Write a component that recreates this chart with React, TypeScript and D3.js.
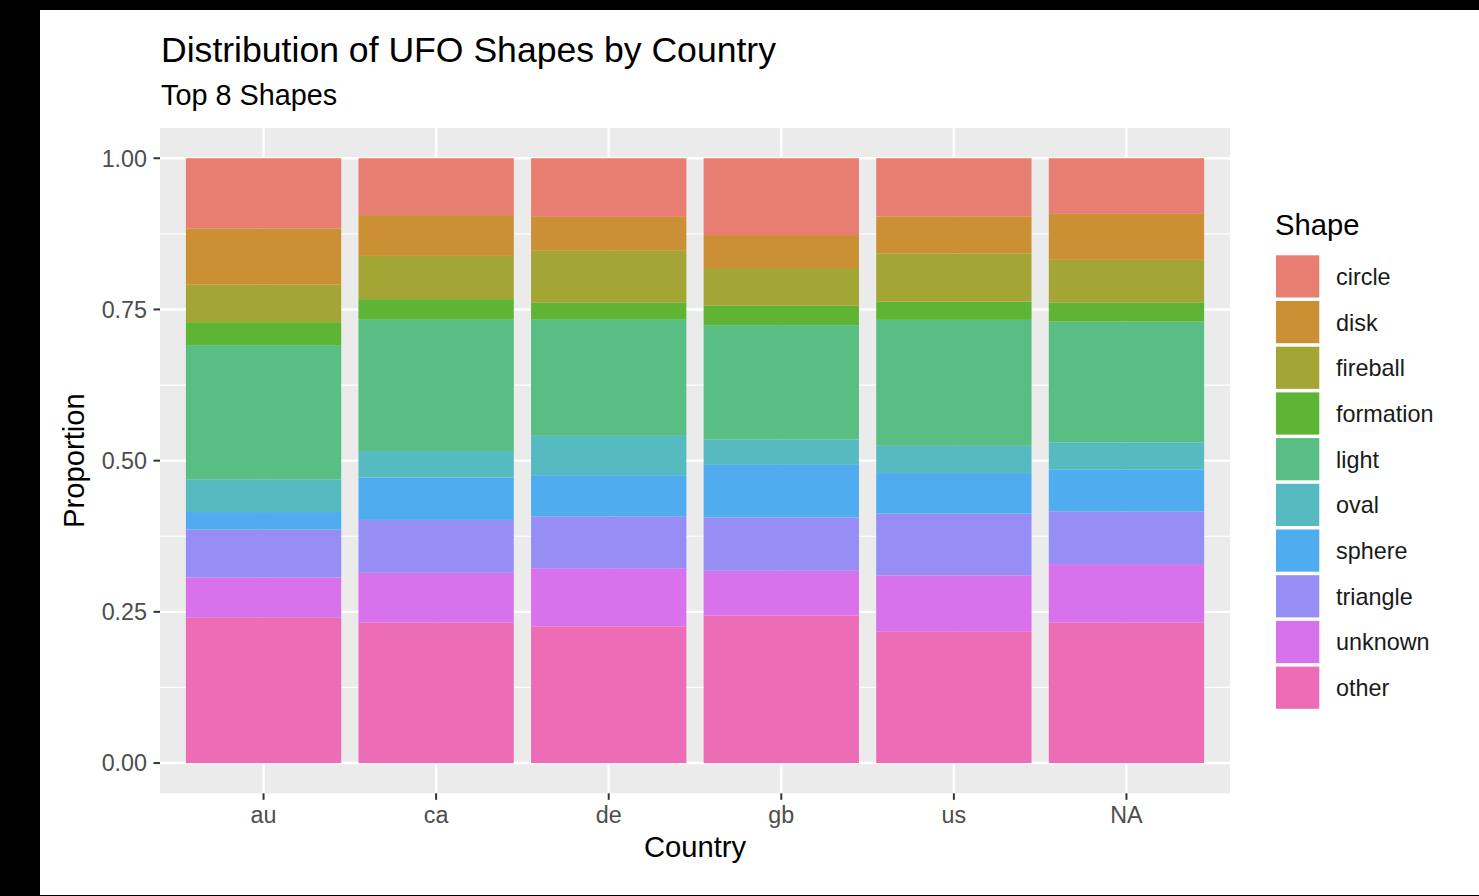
import React from "react";
import * as d3 from "d3";

const countries = ["au", "ca", "de", "gb", "us", "NA"];
const shapes = ["circle", "disk", "fireball", "formation", "light", "oval", "sphere", "triangle", "unknown", "other"];
const shapeColors = ["#E77E71", "#CB9033", "#A3A534", "#5EB535", "#58BE84", "#55BBC0", "#4FACEF", "#968EF5", "#D771EC", "#EC6DB5"];

const circleVals = [0.116, 0.094, 0.097, 0.127, 0.096, 0.092];
const diskVals = [0.093, 0.0675, 0.056, 0.0545, 0.061, 0.076];
const fireballVals = [0.062, 0.0715, 0.086, 0.0625, 0.08, 0.071];
const formationVals = [0.038, 0.034, 0.028, 0.032, 0.03, 0.031];
const lightVals = [0.222, 0.217, 0.192, 0.189, 0.208, 0.2];
const ovalVals = [0.054, 0.044, 0.065, 0.042, 0.045, 0.045];
const sphereVals = [0.029, 0.07, 0.068, 0.087, 0.067, 0.069];
const triangleVals = [0.079, 0.0874, 0.086, 0.088, 0.102, 0.087];
const unknownVals = [0.066, 0.0826, 0.096, 0.074, 0.093, 0.097];
const otherVals = [0.241, 0.232, 0.226, 0.244, 0.217, 0.232];

const yTicks = [0, 0.25, 0.5, 0.75, 1];
const yMinor = [0.125, 0.375, 0.625, 0.875];

const seriesByShape: Record<string, number[]> = {
  circle: circleVals,
  disk: diskVals,
  fireball: fireballVals,
  formation: formationVals,
  light: lightVals,
  oval: ovalVals,
  sphere: sphereVals,
  triangle: triangleVals,
  unknown: unknownVals,
  other: otherVals,
};

const FONT = "'Liberation Sans', Arial, Helvetica, sans-serif";

export default function App() {
  const W = 1479;
  const H = 896;
  const panel = { x0: 160, x1: 1230, y0: 128, y1: 793.3 };

  const rows = countries.map((c, i) => {
    const r: any = { country: c };
    shapes.forEach((s) => (r[s] = seriesByShape[s][i]));
    return r;
  });

  const stackKeys = [...shapes].reverse(); // other at bottom
  const stacked = d3.stack<any>().keys(stackKeys).offset(d3.stackOffsetExpand)(rows);

  const x = d3
    .scaleBand<string>()
    .domain(countries)
    .range([panel.x0, panel.x1])
    .paddingInner(0.1)
    .paddingOuter(0.15);
  const y = d3.scaleLinear().domain([-0.05, 1.05]).range([panel.y1, panel.y0]);
  const color = d3.scaleOrdinal<string, string>().domain(shapes).range(shapeColors);

  const keyTop = 255.3;
  const keyStep = 45.7;
  const keySize = 42.2;

  return (
    <div style={{ position: "fixed", left: 0, top: 0, width: W, height: H, background: "#000", overflow: "hidden" }}>
      <svg width={W} height={H} style={{ display: "block" }}>
        <rect x={0} y={0} width={W} height={H} fill="#000" />
        <rect x={40} y={10} width={W - 40} height={885} fill="#fff" />
        {/* title */}
        <text x={161} y={62} fontFamily={FONT} fontSize={35.6} fill="#000">
          Distribution of UFO Shapes by Country
        </text>
        <text x={161} y={105} fontFamily={FONT} fontSize={28.8} fill="#000">
          Top 8 Shapes
        </text>
        {/* panel */}
        <rect x={panel.x0} y={panel.y0} width={panel.x1 - panel.x0} height={panel.y1 - panel.y0} fill="#EBEBEB" />
        {yMinor.map((t) => (
          <line key={"mn" + t} x1={panel.x0} x2={panel.x1} y1={y(t)} y2={y(t)} stroke="#fff" strokeWidth={1.2} />
        ))}
        {yTicks.map((t) => (
          <line key={"mj" + t} x1={panel.x0} x2={panel.x1} y1={y(t)} y2={y(t)} stroke="#fff" strokeWidth={2.4} />
        ))}
        {countries.map((c) => {
          const cx = (x(c) as number) + x.bandwidth() / 2;
          return <line key={"vg" + c} x1={cx} x2={cx} y1={panel.y0} y2={panel.y1} stroke="#fff" strokeWidth={2.4} />;
        })}
        {/* bars */}
        {stacked.map((layer) => (
          <g key={layer.key} fill={color(layer.key)}>
            {layer.map((d, i) => (
              <rect
                key={countries[i]}
                x={x(countries[i]) as number}
                width={x.bandwidth()}
                y={y(d[1])}
                height={y(d[0]) - y(d[1])}
              />
            ))}
          </g>
        ))}
        {/* y axis */}
        {yTicks.map((t) => (
          <g key={"yt" + t}>
            <line x1={panel.x0 - 6.5} x2={panel.x0} y1={y(t)} y2={y(t)} stroke="#333" strokeWidth={2} />
            <text
              x={147}
              y={y(t)}
              dy="0.36em"
              textAnchor="end"
              fontFamily={FONT}
              fontSize={23.3}
              fill="#4D4D4D"
            >
              {d3.format(".2f")(t)}
            </text>
          </g>
        ))}
        {/* x axis */}
        {countries.map((c) => {
          const cx = (x(c) as number) + x.bandwidth() / 2;
          return (
            <g key={"xt" + c}>
              <line x1={cx} x2={cx} y1={panel.y1} y2={panel.y1 + 6.5} stroke="#333" strokeWidth={2} />
              <text x={cx} y={823} textAnchor="middle" fontFamily={FONT} fontSize={23.3} fill="#4D4D4D">
                {c}
              </text>
            </g>
          );
        })}
        <text x={(panel.x0 + panel.x1) / 2} y={857} textAnchor="middle" fontFamily={FONT} fontSize={29.2} fill="#000">
          Country
        </text>
        <text
          transform={`translate(84,${(panel.y0 + panel.y1) / 2}) rotate(-90)`}
          textAnchor="middle"
          fontFamily={FONT}
          fontSize={29.2}
          fill="#000"
        >
          Proportion
        </text>
        {/* legend */}
        <text x={1275} y={235} fontFamily={FONT} fontSize={29.2} fill="#000">
          Shape
        </text>
        {shapes.map((s, i) => {
          const ky = keyTop + i * keyStep;
          return (
            <g key={"lg" + s}>
              <rect x={1276} y={ky} width={43.3} height={keySize} fill={color(s)} />
              <text x={1336} y={ky + keySize / 2} dy="0.36em" fontFamily={FONT} fontSize={23.4} fill="#1A1A1A">
                {s}
              </text>
            </g>
          );
        })}
      </svg>
    </div>
  );
}
